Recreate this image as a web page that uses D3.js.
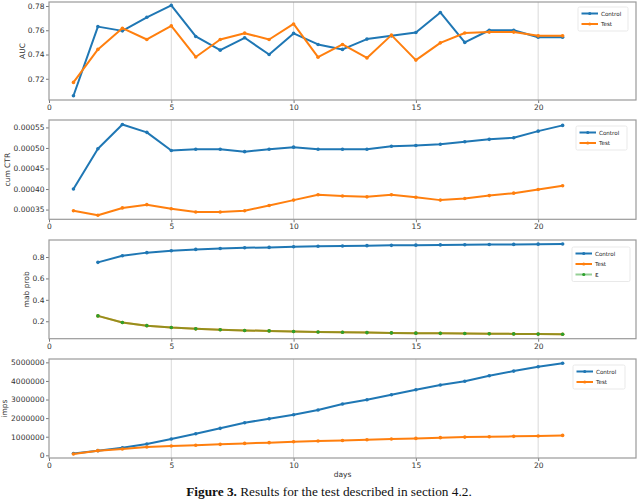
<!DOCTYPE html>
<html>
<head>
<meta charset="utf-8">
<script src="https://cdn.jsdelivr.net/npm/d3@7/dist/d3.min.js"></script>
<style>
  body { margin: 0; background: #fff; }
  svg { display: block; }
  .tick text { font-family: "DejaVu Sans", sans-serif; fill: #333; }
</style>
</head>
<body>
<svg id="chart" width="640" height="499"></svg>
<script>
// days
const days = [1,2,3,4,5,6,7,8,9,10,11,12,13,14,15,16,17,18,19,20,21];
const mabDays = [2,3,4,5,6,7,8,9,10,11,12,13,14,15,16,17,18,19,20,21];
const xTicks = [0, 5, 10, 15, 20];

// AUC
const aucControl = [0.706,0.763,0.7595,0.7707,0.7805,0.7549,0.7436,0.7538,0.7400,0.7574,0.7483,
                    0.7442,0.7527,0.7554,0.7582,0.7747,0.7500,0.7600,0.7600,0.7543,0.7543];
const aucTest    = [0.717,0.7442,0.7617,0.7524,0.7636,0.7380,0.7524,0.7576,0.7524,0.7652,0.7378,
                    0.7483,0.7372,0.7560,0.7354,0.7496,0.7577,0.7585,0.7585,0.7554,0.7554];
const aucTicks = [0.72, 0.74, 0.76, 0.78];

// cumulative CTR
const ctrControl = [0.000400,0.000498,0.000557,0.000538,0.000494,0.000497,0.000497,0.000491,0.000497,0.000502,0.000497,
                    0.000497,0.000497,0.000504,0.000506,0.000509,0.000515,0.000521,0.000525,0.000541,0.000555];
const ctrTest    = [0.000347,0.000336,0.000354,0.000362,0.000352,0.000344,0.000344,0.000347,0.000360,0.000373,0.000386,
                    0.000383,0.000381,0.000386,0.000380,0.000373,0.000377,0.000384,0.000390,0.000399,0.000408];
const ctrTicks = [0.00035, 0.00040, 0.00045, 0.00050, 0.00055];

// MAB probabilities
const mabControl = [0.750,0.812,0.841,0.859,0.871,0.880,0.886,0.890,0.896,0.900,
                    0.903,0.906,0.909,0.911,0.913,0.915,0.917,0.918,0.920,0.921];
const mabTest    = [0.250,0.188,0.159,0.141,0.129,0.120,0.114,0.110,0.104,0.100,
                    0.097,0.094,0.091,0.089,0.087,0.085,0.083,0.082,0.080,0.079];
const mabEps     = [0.250,0.188,0.159,0.141,0.129,0.120,0.114,0.110,0.104,0.100,
                    0.097,0.094,0.091,0.089,0.087,0.085,0.083,0.082,0.080,0.079];
const mabTicks = [0.2, 0.4, 0.6, 0.8];

// impressions
const impsControl = [100000,250000,410000,610000,880000,1160000,1450000,1750000,1970000,2180000,2440000,
                     2760000,2990000,3260000,3530000,3780000,3980000,4280000,4530000,4760000,4950000];
const impsTest    = [70000,250000,340000,450000,500000,540000,590000,640000,680000,730000,770000,
                     800000,840000,880000,910000,950000,980000,1000000,1020000,1040000,1070000];
const impsTicks = [0, 1000000, 2000000, 3000000, 4000000, 5000000];

const BLUE = "#1f77b4", ORANGE = "#ff7f0e", GREEN = "#2ca02c";

const svg = d3.select("#chart");
const left = 49, right = 636;
const x = d3.scaleLinear().domain([0, 24]).range([left, right]);

const panels = [
  { top: 2, bottom: 100, domain: [0.7025, 0.7833], ticks: aucTicks, fmt: d3.format(".2f"),
    label: "AUC", labelX: 22,
    series: [{ name: "Control", xs: days, ys: aucControl, color: BLUE },
             { name: "Test", xs: days, ys: aucTest, color: ORANGE }],
    legend: { x: 578, y: 7, w: 50 } },
  { top: 120, bottom: 219.3, domain: [0.0003263, 0.0005681], ticks: ctrTicks, fmt: d3.format(".5f"),
    label: "cum CTR", labelX: 7,
    series: [{ name: "Control", xs: days, ys: ctrControl, color: BLUE },
             { name: "Test", xs: days, ys: ctrTest, color: ORANGE }],
    legend: { x: 576, y: 126, w: 51 } },
  { top: 240, bottom: 338.7, domain: [0.037, 0.959], ticks: mabTicks, fmt: d3.format(".1f"),
    label: "mab prob", labelX: 26,
    series: [{ name: "Control", xs: mabDays, ys: mabControl, color: BLUE },
             { name: "Test", xs: mabDays, ys: mabTest, color: ORANGE },
             { name: "\u03b5", xs: mabDays, ys: mabEps, color: GREEN, lineOpacity: 0.5 }],
    legend: { x: 572, y: 247, w: 58 } },
  { top: 359, bottom: 458, domain: [-145000, 5180000], ticks: impsTicks, fmt: d3.format("d"),
    label: "imps", labelX: 4,
    series: [{ name: "Control", xs: days, ys: impsControl, color: BLUE },
             { name: "Test", xs: days, ys: impsTest, color: ORANGE }],
    legend: { x: 573, y: 365, w: 52 } }
];

panels.forEach((p, i) => {
  const y = d3.scaleLinear().domain(p.domain).range([p.bottom, p.top]);
  const g = svg.append("g");

  // vertical grid
  g.append("g").selectAll("line")
    .data(xTicks.filter(t => t > 0))
    .enter().append("line")
    .attr("x1", d => x(d)).attr("x2", d => x(d))
    .attr("y1", p.top).attr("y2", p.bottom)
    .attr("stroke", "#d9d9d9").attr("stroke-width", 1);

  // axes
  const xa = g.append("g")
    .attr("transform", `translate(0,${p.bottom})`)
    .call(d3.axisBottom(x).tickValues(xTicks).tickSize(3).tickPadding(1.5));
  const ya = g.append("g")
    .attr("transform", `translate(${left},0)`)
    .call(d3.axisLeft(y).tickValues(p.ticks).tickFormat(p.fmt).tickSize(3).tickPadding(1.5));
  [xa, ya].forEach(a => {
    a.select(".domain").remove();
    a.selectAll(".tick line").attr("stroke", "#555").attr("stroke-width", 0.8);
    a.selectAll(".tick text").attr("font-size", 7.5);
  });

  // frame
  g.append("rect")
    .attr("x", left).attr("y", p.top)
    .attr("width", right - left).attr("height", p.bottom - p.top)
    .attr("fill", "none").attr("stroke", "#9a9a9a").attr("stroke-width", 1.2);

  // y label
  g.append("text")
    .attr("transform", `translate(${p.labelX + 2.5},${(p.top + p.bottom) / 2}) rotate(-90)`)
    .attr("text-anchor", "middle")
    .attr("font-family", "DejaVu Sans, sans-serif")
    .attr("font-size", 7.5).attr("fill", "#333")
    .text(p.label);

  // series
  const line = d3.line().x(d => x(d[0])).y(d => y(d[1]));
  p.series.forEach(s => {
    const pts = s.xs.map((d, k) => [d, s.ys[k]]);
    g.append("path")
      .attr("d", line(pts))
      .attr("fill", "none")
      .attr("stroke", s.color)
      .attr("stroke-opacity", s.lineOpacity || 1)
      .attr("stroke-width", 2)
      .attr("stroke-linejoin", "round");
    g.append("g").selectAll("circle")
      .data(pts).enter().append("circle")
      .attr("cx", d => x(d[0])).attr("cy", d => y(d[1]))
      .attr("r", 1.8).attr("fill", s.color);
  });

  // legend
  const L = p.legend, rowH = 10.5;
  const lg = g.append("g").attr("transform", `translate(${L.x},${L.y})`);
  lg.append("rect")
    .attr("width", L.w).attr("height", 3 + p.series.length * rowH)
    .attr("rx", 1.5)
    .attr("fill", "#fff").attr("stroke", "#e3e3e3").attr("stroke-width", 0.8);
  p.series.forEach((s, k) => {
    const cy = 6.5 + k * rowH;
    lg.append("line")
      .attr("x1", 3.5).attr("x2", 20).attr("y1", cy).attr("y2", cy)
      .attr("stroke", s.color).attr("stroke-opacity", s.lineOpacity || 1).attr("stroke-width", 2);
    lg.append("circle").attr("cx", 11.75).attr("cy", cy).attr("r", 1.6).attr("fill", s.color);
    lg.append("text")
      .attr("x", 23).attr("y", cy + 2)
      .attr("font-family", "DejaVu Sans, sans-serif")
      .attr("font-size", s.name.length === 1 ? 7 : 5.6).attr("fill", "#222")
      .text(s.name);
  });
});

// x label
svg.append("text")
  .attr("x", (left + right) / 2).attr("y", 476.5)
  .attr("text-anchor", "middle")
  .attr("font-family", "DejaVu Sans, sans-serif")
  .attr("font-size", 7.5).attr("fill", "#333")
  .text("days");

// caption
const cap = svg.append("text")
  .attr("x", 329).attr("y", 495.5)
  .attr("text-anchor", "middle")
  .attr("font-family", "Liberation Serif, serif")
  .attr("font-size", 13.3).attr("fill", "#111");
cap.append("tspan").attr("font-weight", "bold").text("Figure 3.");
cap.append("tspan").text(" Results for the test described in section 4.2.");
</script>
</body>
</html>
